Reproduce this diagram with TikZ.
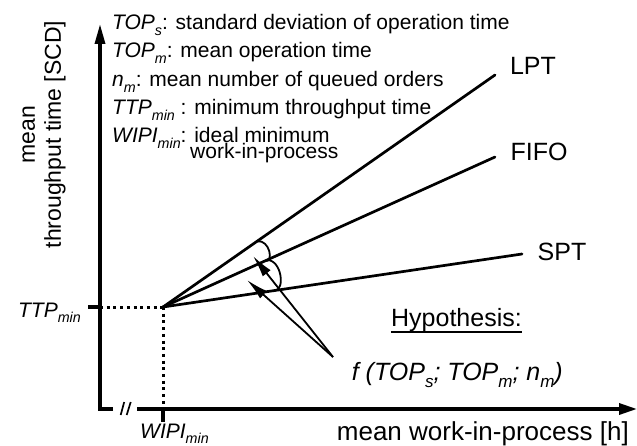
\documentclass[tikz,border=0pt]{standalone}
\usepackage{fontspec}
\setmainfont{Liberation Sans}
\usetikzlibrary{arrows.meta,calc}
\newcommand{\myfs}[2]{\fontsize{#1}{#2}\selectfont}
\newcommand{\lowsub}[1]{\raisebox{-0.28em}{\scalebox{0.68}{\itshape #1}}}
\tikzset{
  axisline/.style={line width=3.3pt},
  yarrow/.style={line width=3.3pt,-{Triangle[length=20pt,width=10pt]}},
  xarrow/.style={line width=3.3pt,-{Triangle[length=18pt,width=11pt]}},
  fanline/.style={line width=2.7pt,line cap=round},
  dotline/.style={line width=3pt,dash pattern=on 3pt off 3.7pt},
  thinarrow/.style={line width=1.8pt,-{Latex[length=22pt,width=10pt]}},
  arcline/.style={line width=1.8pt},
  breakline/.style={line width=1.7pt},
  txt/.style={inner sep=0pt,font=\myfs{21}{23}},
  curvelab/.style={inner sep=0pt,font=\myfs{25}{27}},
  italab/.style={inner sep=0pt,font=\myfs{21}{23}\itshape},
}
\begin{document}
\begin{tikzpicture}[x=1pt,y=-1pt]
\useasboundingbox (0,0) rectangle (637,446);
% key points
\coordinate (O) at (163,307);
\coordinate (corner) at (100,409);
\coordinate (ytip) at (100,24);
\coordinate (xs) at (113,409);
\coordinate (xr) at (137,409);
\coordinate (xtip) at (637,409);
\coordinate (tt0) at (88,307);
\coordinate (tt1) at (100,307);
\coordinate (wt0) at (163,409);
\coordinate (wt1) at (163,422);
\coordinate (lptE) at (495,75);
\coordinate (fifoE) at (495,157);
\coordinate (sptE) at (522,254);
% axes
\draw[yarrow] (xs) -- (corner) -- (ytip);
\draw[xarrow] (xr) -- (xtip);
\coordinate (b1a) at (120.7,415); \coordinate (b1b) at (124.2,402);
\coordinate (b2a) at (126.7,415); \coordinate (b2b) at (130.7,402);
\draw[breakline] (b1a) -- (b1b);
\draw[breakline] (b2a) -- (b2b);
% ticks
\draw[axisline] (tt0) -- (tt1);
\draw[axisline] (wt0) -- (wt1);
% dotted guides
\draw[dotline] (tt1) -- (O);
\draw[dotline] (O) -- (wt0);
% fan lines
\draw[fanline] (O) -- (lptE);
\draw[fanline] (O) -- (fifoE);
\draw[fanline] (O) -- (sptE);
% arcs between the lines
\coordinate (a1) at (257,241.3);
\coordinate (b1) at (265,261);
\coordinate (a2) at (267,260);
\coordinate (b2) at (275,290.4);
\draw[arcline] (a1) .. controls +(13,-2) and +(9,2) .. (b1);
\draw[arcline] (a2) .. controls +(15,0) and +(10,0) .. (b2);
% arrows from hypothesis
\coordinate (fsrc) at (333,357);
\coordinate (tip1) at (253,256);
\coordinate (tip2) at (247,280);
\draw[thinarrow] (fsrc) -- (tip1);
\draw[thinarrow] (fsrc) -- (tip2);
% labels
\node[curvelab] (lpt) at (533,66) {LPT};
\node[curvelab] (fifo) at (539,152) {FIFO};
\node[curvelab] (spt) at (562,252) {SPT};
\node[txt,anchor=base west] (l1) at (112,30) {{\itshape TOP}\lowsub{s}: standard deviation of operation time};
\node[txt,anchor=base west] (l2) at (112,58) {{\itshape TOP}\lowsub{m}: mean operation time};
\node[txt,anchor=base west] (l3) at (112,86.5) {{\itshape n}\lowsub{m}: mean number of queued orders};
\node[txt,anchor=base west] (l4) at (112,115) {{\itshape TTP}\lowsub{min} : minimum throughput time};
\node[txt,anchor=base west] (l5) at (112,143) {{\itshape WIPI}\lowsub{min}: ideal minimum};
\node[txt,anchor=base west] (l6) at (190,159) {work-in-process};
\node[inner sep=0pt,rotate=90,align=center,font=\myfs{23}{26}] (ylab) at (44,134.5) {mean\\throughput time [SCD]};
\node[inner sep=0pt,anchor=base east,font=\myfs{26}{28}] (xlab) at (629,440.5) {mean work-in-process [h]};
\node[italab,anchor=base east] (ttpl) at (81,317) {TTP\lowsub{min}};
\node[italab,anchor=base west] (wipil) at (140,438) {WIPI\lowsub{min}};
\node[inner sep=0pt,anchor=base,font=\myfs{25}{27}] (hyp) at (456.5,326) {Hypothesis:};
\coordinate (ul0) at ([yshift=-5.5pt]hyp.base west);
\coordinate (ul1) at ([yshift=-5.5pt]hyp.base east);
\draw[line width=2pt] (ul0) -- (ul1);
\node[inner sep=0pt,anchor=base east,font=\myfs{25}{27}\itshape] (flab) at (563,380) {f (TOP\lowsub{s}; TOP\lowsub{m}; n\lowsub{m})};
\end{tikzpicture}
\end{document}
